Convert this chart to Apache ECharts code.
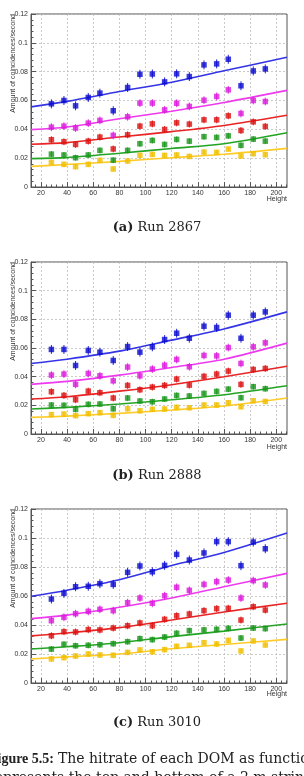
<!DOCTYPE html>
<html><head><meta charset="utf-8">
<script src="https://cdn.jsdelivr.net/npm/echarts@6/dist/echarts.min.js"></script>
<style>html,body{margin:0;padding:0;background:#fff;overflow:hidden}#c{width:304px;height:776px}</style>
</head><body><div id="c"></div>
<script>
// ---- data ----
const heights = [28, 37.6, 46.5, 56.2, 65.1, 75.3, 86.3, 95.7, 105.2, 114.6, 123.8, 133.5, 144.7, 154.4, 163.3, 173.0, 182.4, 191.6];
const xMajorTicks = [20, 40, 60, 80, 100, 120, 140, 160, 180, 200];
const xMinorTicks = [16, 24, 28, 32, 36, 44, 48, 52, 56, 64, 68, 72, 76, 84, 88, 92, 96, 104, 108, 112, 116, 124, 128, 132, 136, 144, 148, 152, 156, 164, 168, 172, 176, 184, 188, 192, 196, 204, 208];
const fitX = [12.4, 40, 80, 120, 160, 208.2];
const runNames = ['2867', '2888', '3010'];
const panelLetters = ['(a)', '(b)', '(c)'];
const seriesColors = ['blue', 'magenta', 'red', 'green', 'yellow'];

// Run 2867
const blueA    = [0.0577,0.0600,0.0563,0.0621,0.0651,0.0529,0.0690,0.0782,0.0784,0.0729,0.0785,0.0766,0.0847,0.0854,0.0886,0.0702,0.0805,0.0819];
const magentaA = [0.0415,0.0422,0.0409,0.0443,0.0462,0.0358,0.0487,0.0582,0.0582,0.0535,0.0581,0.0559,0.0602,0.0628,0.0674,0.0510,0.0600,0.0593];
const redA     = [0.0328,0.0314,0.0295,0.0318,0.0346,0.0264,0.0362,0.0422,0.0438,0.0399,0.0445,0.0436,0.0466,0.0466,0.0494,0.0392,0.0452,0.0420];
const greenA   = [0.0228,0.0222,0.0203,0.0222,0.0254,0.0186,0.0254,0.0300,0.0323,0.0295,0.0330,0.0318,0.0349,0.0344,0.0355,0.0289,0.0332,0.0318];
const yellowA  = [0.0171,0.0157,0.0141,0.0157,0.0185,0.0125,0.0180,0.0219,0.0226,0.0219,0.0222,0.0212,0.0242,0.0240,0.0263,0.0215,0.0231,0.0224];
const fitBlueA    = [0.0556,0.0594,0.0662,0.0727,0.0806,0.0900];
const fitMagentaA = [0.0398,0.0416,0.0473,0.0526,0.0586,0.0670];
const fitRedA     = [0.0297,0.0308,0.0347,0.0384,0.0427,0.0498];
const fitGreenA   = [0.0197,0.0204,0.0234,0.0267,0.0300,0.0376];
const fitYellowA  = [0.0143,0.0156,0.0178,0.0203,0.0227,0.0268];

// Run 2888
const blueB    = [0.0590,0.0590,0.0478,0.0583,0.0571,0.0513,0.0610,0.0571,0.0608,0.0659,0.0703,0.0668,0.0752,0.0743,0.0829,0.0668,0.0829,0.0852];
const magentaB = [0.0411,0.0418,0.0346,0.0422,0.0406,0.0371,0.0467,0.0406,0.0453,0.0480,0.0520,0.0469,0.0548,0.0545,0.0603,0.0492,0.0608,0.0636];
const redB     = [0.0295,0.0269,0.0239,0.0299,0.0288,0.0251,0.0339,0.0309,0.0327,0.0339,0.0383,0.0341,0.0402,0.0418,0.0439,0.0346,0.0450,0.0457];
const greenB   = [0.0202,0.0200,0.0172,0.0207,0.0209,0.0176,0.0251,0.0230,0.0225,0.0244,0.0269,0.0265,0.0283,0.0297,0.0313,0.0253,0.0330,0.0316];
const yellowB  = [0.0135,0.0139,0.0128,0.0142,0.0149,0.0130,0.0176,0.0162,0.0172,0.0174,0.0186,0.0183,0.0202,0.0202,0.0218,0.0190,0.0232,0.0227];
const fitBlueB    = [0.0492,0.0522,0.0578,0.0655,0.0733,0.0852];
const fitMagentaB = [0.0346,0.0367,0.0411,0.0464,0.0522,0.0634];
const fitRedB     = [0.0244,0.0260,0.0299,0.0344,0.0399,0.0473];
const fitGreenB   = [0.0174,0.0186,0.0209,0.0239,0.0274,0.0337];
const fitYellowB  = [0.0116,0.0125,0.0144,0.0167,0.0195,0.0251];

// Run 3010
const blueC    = [0.0579,0.0618,0.0664,0.0667,0.0685,0.0680,0.0763,0.0807,0.0767,0.0811,0.0887,0.0848,0.0897,0.0975,0.0975,0.0809,0.0972,0.0926];
const magentaC = [0.0430,0.0453,0.0478,0.0494,0.0508,0.0499,0.0554,0.0586,0.0550,0.0602,0.0660,0.0639,0.0680,0.0699,0.0710,0.0586,0.0706,0.0676];
const redC     = [0.0326,0.0354,0.0352,0.0368,0.0366,0.0379,0.0395,0.0414,0.0395,0.0439,0.0464,0.0476,0.0499,0.0513,0.0515,0.0434,0.0526,0.0503];
const greenC   = [0.0234,0.0267,0.0257,0.0260,0.0264,0.0271,0.0285,0.0306,0.0299,0.0317,0.0343,0.0361,0.0366,0.0370,0.0377,0.0310,0.0379,0.0375];
const yellowC  = [0.0166,0.0175,0.0186,0.0200,0.0193,0.0191,0.0211,0.0228,0.0215,0.0230,0.0253,0.0260,0.0278,0.0269,0.0294,0.0221,0.0290,0.0262];
const fitBlueC    = [0.0598,0.0640,0.0712,0.0810,0.0900,0.1034];
const fitMagentaC = [0.0444,0.0468,0.0522,0.0586,0.0664,0.0756];
const fitRedC     = [0.0325,0.0345,0.0382,0.0434,0.0490,0.0550];
const fitGreenC   = [0.0234,0.0250,0.0278,0.0320,0.0358,0.0407];
const fitYellowC  = [0.0166,0.0180,0.0200,0.0236,0.0266,0.0301];

// error bar half-lengths per series (blue, magenta, red, green, yellow)
const errA = [0.0031,0.0027,0.0024,0.0021,0.0019];
const errB = [0.0031,0.0027,0.0024,0.0021,0.0019];
const errC = [0.0031,0.0027,0.0024,0.0021,0.0019];

// ---- layout / style ----
const panels = [
  {top: 14,  height: 173, pts: [blueA, magentaA, redA, greenA, yellowA], fits: [fitBlueA, fitMagentaA, fitRedA, fitGreenA, fitYellowA], err: errA},
  {top: 262, height: 172, pts: [blueB, magentaB, redB, greenB, yellowB], fits: [fitBlueB, fitMagentaB, fitRedB, fitGreenB, fitYellowB], err: errB},
  {top: 509, height: 174, pts: [blueC, magentaC, redC, greenC, yellowC], fits: [fitBlueC, fitMagentaC, fitRedC, fitGreenC, fitYellowC], err: errC}
];
const markerColor = {blue:'#0a0ad0', magenta:'#dc18dc', red:'#dc1212', green:'#18961a', yellow:'#f0bf00'};
const lineColor   = {blue:'#3434e6', magenta:'#ee3aee', red:'#e82424', green:'#24a424', yellow:'#ffcb26'};
const SANS = 'Liberation Sans, Arial, sans-serif';
const SERIF = 'DejaVu Serif, serif';
const AX = '#555';

const grids = [], xAxes = [], yAxes = [], series = [], graphics = [];
panels.forEach((p, i) => {
  grids.push({left: 31, width: 256, top: p.top, height: p.height, show: true, borderColor: AX, borderWidth: 1, containLabel: false});
  xAxes.push({
    type: 'value', gridIndex: i, min: 12.4, max: 208.2, position: 'bottom',
    axisLine: {show: true, onZero: false, lineStyle: {color: AX, width: 1}},
    axisTick: {show: true, inside: true, length: 5, customValues: xMajorTicks, lineStyle: {color: AX}},
    axisLabel: {show: true, customValues: xMajorTicks, margin: 3, fontSize: 7, fontFamily: SANS, color: '#333'},
    splitLine: {show: true, lineStyle: {color: '#bdbdbd', type: [2, 2], width: 0.8}}
  });
  xAxes.push({
    type: 'value', gridIndex: i, min: 12.4, max: 208.2, position: 'bottom',
    axisLine: {show: false},
    axisTick: {show: true, inside: true, length: 2.5, customValues: xMinorTicks, lineStyle: {color: AX}},
    axisLabel: {show: false}, splitLine: {show: false}
  });
  yAxes.push({
    type: 'value', gridIndex: i, min: 0, max: 0.12, interval: 0.02,
    axisLine: {show: true, onZero: false, lineStyle: {color: AX, width: 1}},
    axisTick: {show: true, inside: true, length: 5, lineStyle: {color: AX}},
    minorTick: {show: true, splitNumber: 5, length: 2.5, lineStyle: {color: AX}},
    axisLabel: {margin: 3, fontSize: 7, fontFamily: SANS, color: '#333',
      formatter: v => v === 0 ? '0' : String(parseFloat(v.toFixed(2)))},
    splitLine: {show: true, lineStyle: {color: '#bdbdbd', type: [2, 2], width: 0.8}}
  });
  seriesColors.forEach((c, k) => {
    const vals = p.pts[k], e = p.err[k];
    series.push({
      type: 'line', xAxisIndex: i * 2, yAxisIndex: i, showSymbol: false, smooth: 0.3,
      data: fitX.map((x, j) => [x, p.fits[k][j]]),
      lineStyle: {color: lineColor[c], width: 1.6}, silent: true, z: 2, animation: false
    });
    series.push({
      type: 'custom', xAxisIndex: i * 2, yAxisIndex: i, z: 3, animation: false, silent: true,
      encode: {x: 0, y: 1},
      data: heights.map((h, j) => [h, vals[j], e]),
      renderItem: (params, api) => {
        const x = api.value(0), y = api.value(1), er = api.value(2);
        const a = api.coord([x, y - er]), b = api.coord([x, y + er]);
        return {type: 'line', shape: {x1: a[0], y1: a[1], x2: b[0], y2: b[1]},
          style: {stroke: markerColor[c], lineWidth: 1, opacity: 0.9}};
      }
    });
    series.push({
      type: 'scatter', xAxisIndex: i * 2, yAxisIndex: i, symbol: 'rect', symbolSize: 5.5,
      data: heights.map((h, j) => [h, vals[j]]),
      itemStyle: {color: markerColor[c]}, z: 4, animation: false, silent: true
    });
  });
  graphics.push({type: 'text', x: 13, y: p.top, rotation: Math.PI / 2,
    style: {text: 'Amount of coincidences/second', font: '7px ' + SANS, fill: '#333', textAlign: 'right', textVerticalAlign: 'middle'}});
  graphics.push({type: 'text', x: 287, y: p.top + 185,
    style: {text: 'Height', font: '7px ' + SANS, fill: '#333', textAlign: 'right', textVerticalAlign: 'middle'}});
  graphics.push({type: 'text', x: 157, y: p.top + 214,
    style: {text: '{b|' + panelLetters[i] + '} Run ' + runNames[i], font: '13px ' + SERIF, fill: '#222',
      textAlign: 'center', textVerticalAlign: 'middle',
      rich: {b: {fontWeight: 'bold', fontFamily: SERIF, fontSize: 13, fill: '#222'}}}});
});
graphics.push({type: 'text', x: 54, y: 759,
  style: {text: 'Figure 5.5:', font: 'bold 14px Liberation Serif, serif', fill: '#222', textAlign: 'right', textVerticalAlign: 'middle'}});
graphics.push({type: 'text', x: 58, y: 759,
  style: {text: 'The hitrate of each DOM as function of height', font: '14px ' + SERIF, fill: '#222', textAlign: 'left', textVerticalAlign: 'middle'}});
graphics.push({type: 'text', x: -12, y: 778,
  style: {text: 'represents the top and bottom of a 2 m string. Each dot', font: '14px ' + SERIF, fill: '#222', textAlign: 'left', textVerticalAlign: 'middle'}});

const chart = echarts.init(document.getElementById('c'), null, {renderer: 'canvas'});
chart.setOption({
  animation: false,
  backgroundColor: '#fff',
  grid: grids, xAxis: xAxes, yAxis: yAxes, series: series, graphic: graphics
});
</script></body></html>
